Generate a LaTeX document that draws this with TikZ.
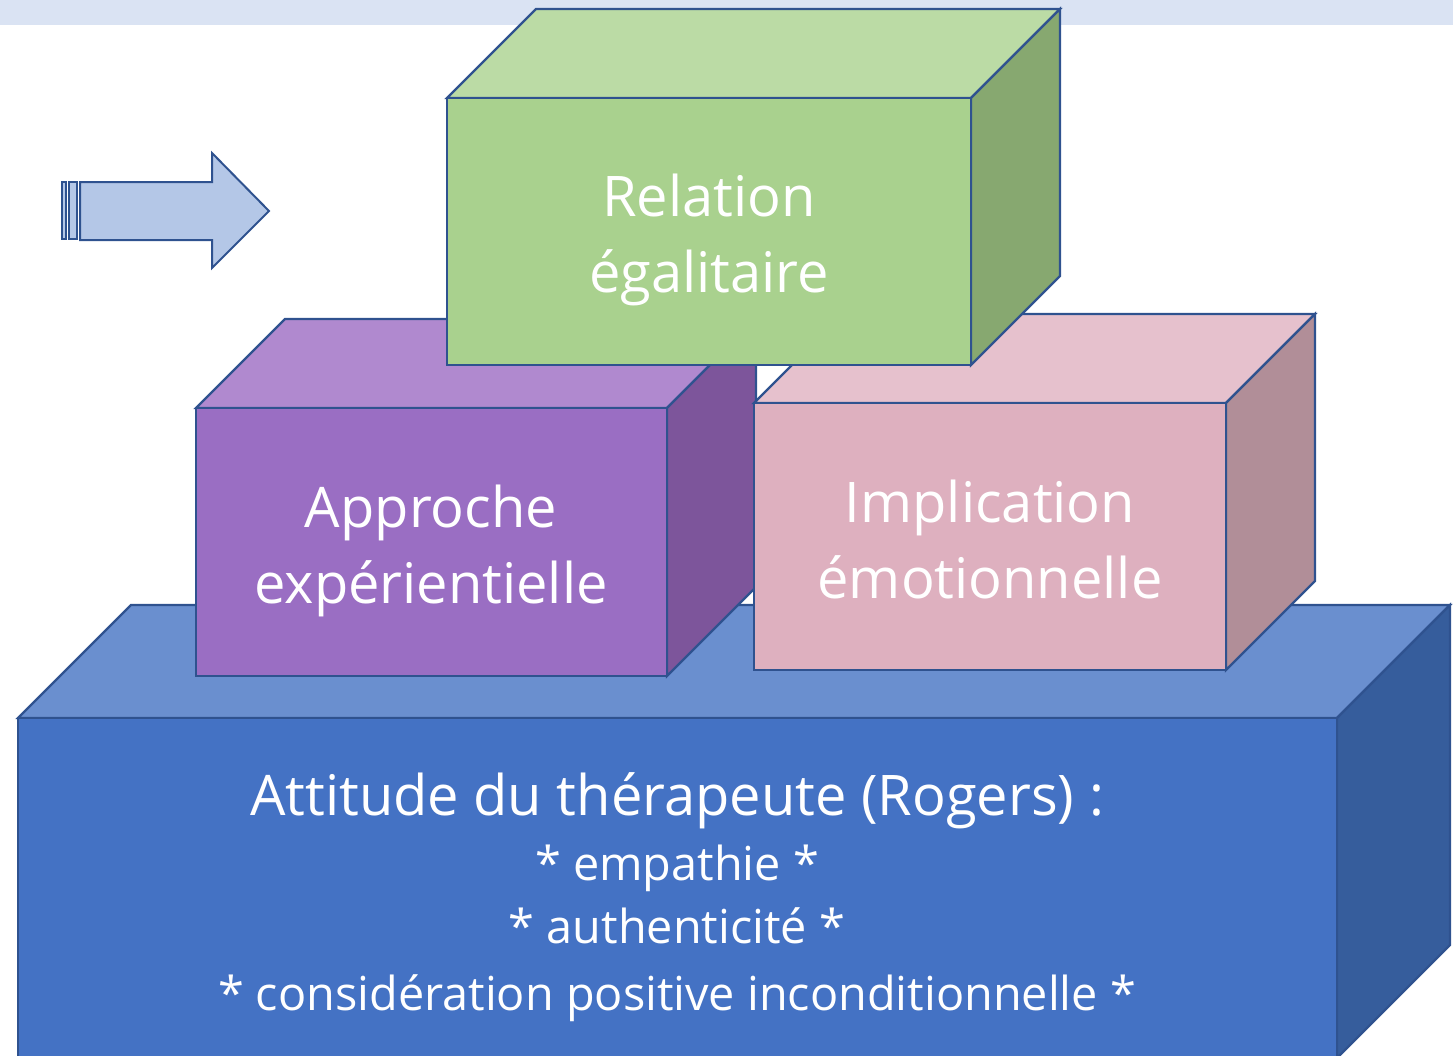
\documentclass[tikz,border=0pt]{standalone}
\usepackage{fontspec}
\setmainfont{Open Sans}
\begin{document}
\begin{tikzpicture}[x=1pt,y=-1pt,
  edge/.style={draw=outline, line width=2.2pt, line join=miter},
  lbl/.style={text=white, anchor=base, inner sep=0pt, font=\fontsize{56}{74}\selectfont},
  sub/.style={text=white, anchor=base, inner sep=0pt, font=\fontsize{46.8}{62}\selectfont}]
\definecolor{outline}{HTML}{2F528F}
\definecolor{band}{HTML}{DAE3F3}
\definecolor{bfront}{HTML}{4472C4}\definecolor{btop}{HTML}{6A8FCF}\definecolor{bside}{HTML}{365D9C}
\definecolor{gfront}{HTML}{A9D18E}\definecolor{gtop}{HTML}{BBDBA5}\definecolor{gside}{HTML}{87A870}
\definecolor{pfront}{HTML}{9A6EC3}\definecolor{ptop}{HTML}{B089CF}\definecolor{pside}{HTML}{7D559B}
\definecolor{rfront}{HTML}{DEB0BF}\definecolor{rtop}{HTML}{E6C1CD}\definecolor{rside}{HTML}{B18E98}
\definecolor{arrowfill}{HTML}{B4C7E7}
% cube: left, top, right, bottom of front face, depth, three fills
\newcommand{\blockcube}[8]{%
  \path[edge, fill=#6] (#1,#2) -- (#1+#5,#2-#5) -- (#3+#5,#2-#5) -- (#3,#2) -- cycle;
  \path[edge, fill=#8] (#3,#2) -- (#3+#5,#2-#5) -- (#3+#5,#4-#5) -- (#3,#4) -- cycle;
  \path[edge, fill=#7] (#1,#2) rectangle (#3,#4);
}
\useasboundingbox (0,0) rectangle (1453,1055);
\fill[band] (0,0) rectangle (1453,25);
% base block
\begin{scope}
\clip (0,0) rectangle (1453,1055);
\blockcube{18}{718}{1337}{1058}{113}{btop}{bfront}{bside}
\end{scope}
% middle blocks
\blockcube{196}{408}{667}{676}{89}{ptop}{pfront}{pside}
\blockcube{754}{403}{1226}{670}{89}{rtop}{rfront}{rside}
% top block
\blockcube{447}{98}{971}{365}{89}{gtop}{gfront}{gside}
% striped arrow
\path[edge, line width=2pt, fill=arrowfill] (62,182) rectangle (66,239);
\path[edge, line width=2pt, fill=arrowfill] (69,182) rectangle (77,239);
\path[edge, line width=2pt, fill=arrowfill] (80,182) -- (212,182) -- (212,153) -- (269,211)
  -- (212,268) -- (212,240) -- (80,240) -- cycle;
% labels
\node[lbl] (g1) at (709,216) {Relation};
\node[lbl] (g2) at (709,292) {égalitaire};
\node[lbl] (p1) at (431,527) {Approche};
\node[lbl] (p2) at (431,603) {expérientielle};
\node[lbl] (r1) at (990,522) {Implication};
\node[lbl] (r2) at (990,598) {émotionnelle};
\node[lbl] (b1) at (677,815) {Attitude du thérapeute (Rogers) :};
\node[sub] (b2) at (677,880) {* empathie *};
\node[sub] (b3) at (677,943) {* authenticité *};
\node[sub] (b4) at (677,1010) {* considération positive inconditionnelle *};
\end{tikzpicture}
\end{document}
